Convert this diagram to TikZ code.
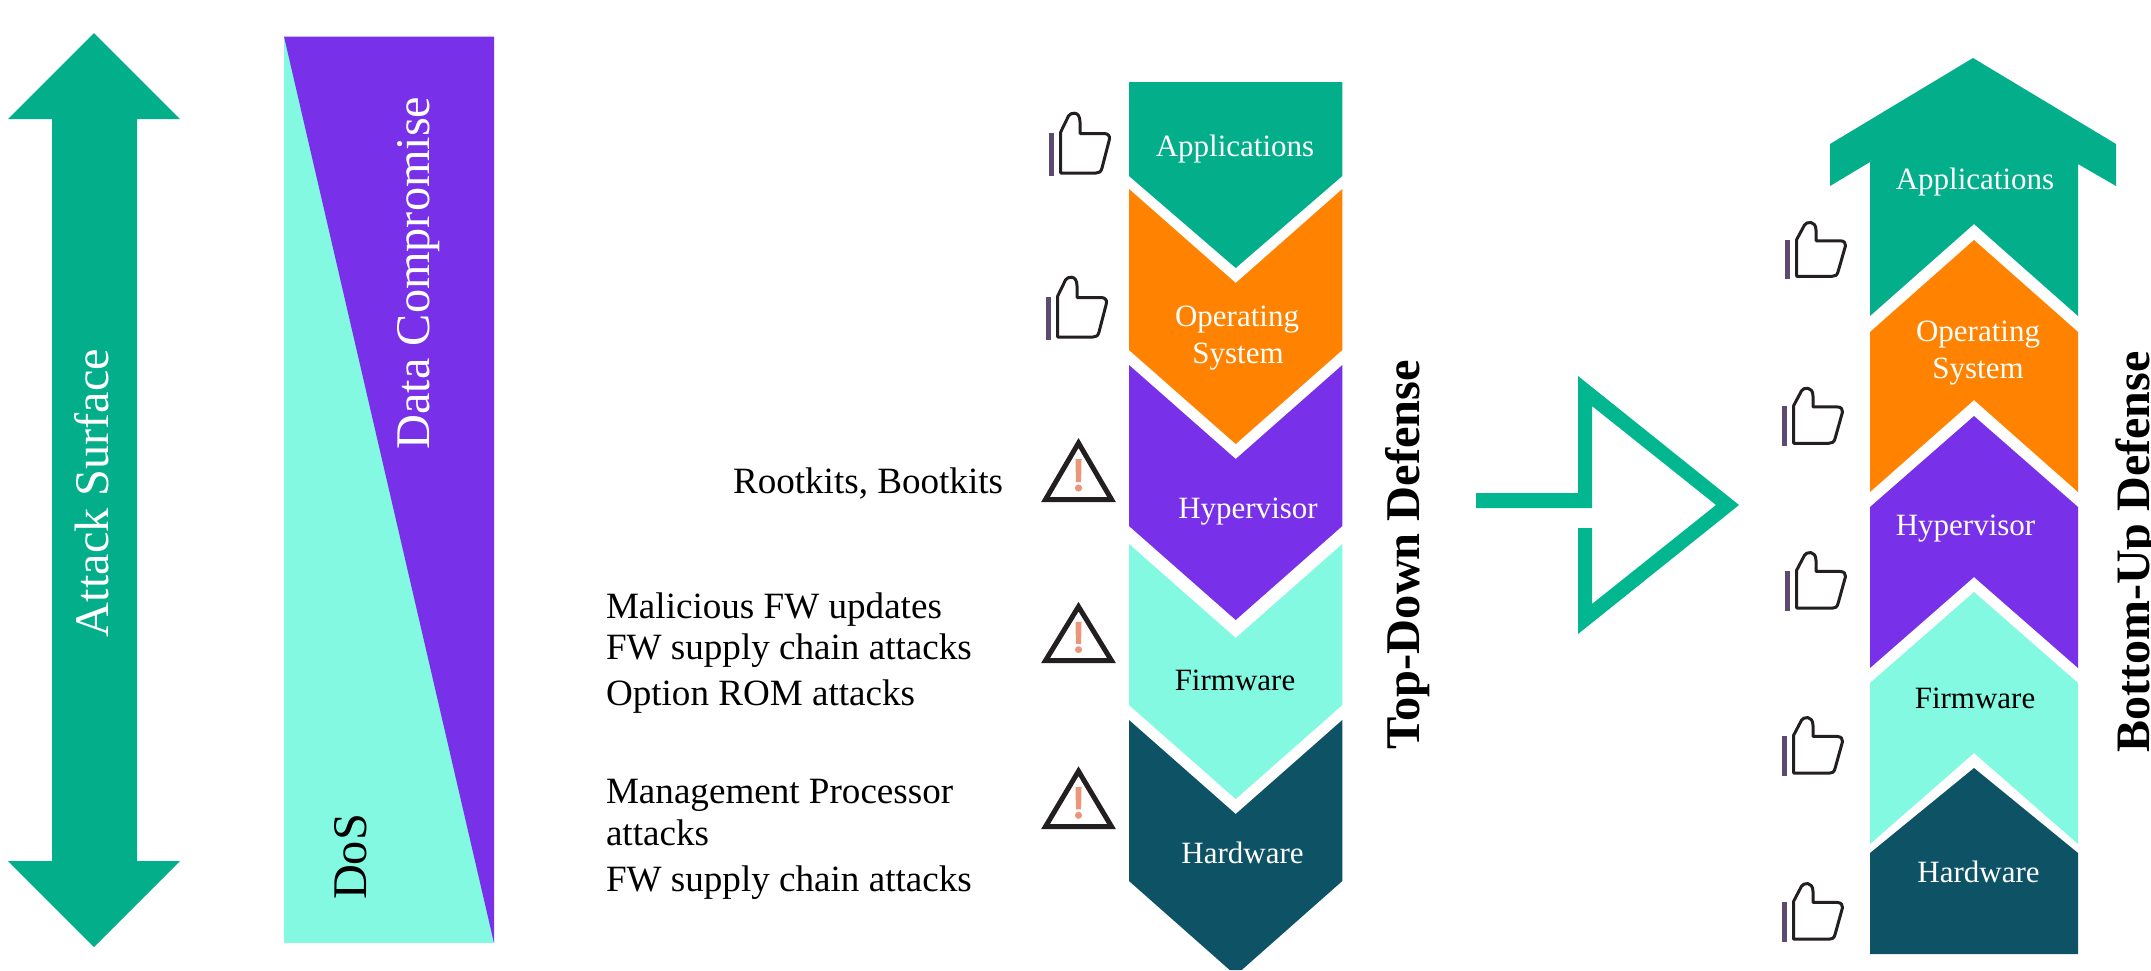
\documentclass[tikz,border=0pt]{standalone}
\usepackage{fontspec}
\setmainfont{Liberation Serif}
\definecolor{hgreen}{HTML}{02AF8A}
\definecolor{hgreenb}{HTML}{02B78F}
\definecolor{hpurple}{HTML}{7830E8}
\definecolor{horange}{HTML}{FF8300}
\definecolor{haqua}{HTML}{84F9E1}
\definecolor{hdark}{HTML}{0E5265}
\definecolor{hbar}{HTML}{5D4A70}
\definecolor{hink}{HTML}{231F20}
\definecolor{hwarn}{HTML}{E9967A}
\tikzset{
  x=1pt,y=-1pt,
  lbl/.style={inner sep=0pt,outer sep=0pt,anchor=base},
  lay/.style={lbl,font=\fontsize{31}{36}\selectfont,text=white},
  laydark/.style={lay,text=black},
  side/.style={lbl,anchor=base west,font=\fontsize{37.1}{41}\selectfont,text=black},
  big/.style={lbl,rotate=90,font=\fontsize{48.3}{54}\selectfont},
  head/.style={lbl,rotate=90,font=\fontsize{48.4}{56}\selectfont\bfseries,text=black},
  thumb/.pic={
    \fill[hbar] (0,0) rectangle (4.5,-43);
    \draw[hink,line width=3pt,line join=round]
      (11.7,-3) -- (11.7,-44) -- (19.5,-60)
      .. controls (21,-63.5) and (31,-66) .. (31,-54)
      -- (31,-42.5) -- (55,-42.5)
      .. controls (59,-42.5) and (61,-40) .. (60.5,-37)
      -- (53,-8)
      .. controls (52,-4) and (50,-3) .. (47,-3) -- cycle;
  },
  warn/.pic={
    \draw[hink,line width=5pt,miter limit=10] (-33,-2.5) -- (0,-59) -- (33,-2.5) -- cycle;
    \fill[hwarn] (-3,-43) -- (3,-43) -- (2.6,-20) -- (-2.6,-20) -- cycle;
    \fill[hwarn] (0,-14) circle (3.6);
  }
}
\begin{document}
\begin{tikzpicture}
\useasboundingbox (0,0) rectangle (2151,970);
\fill[white] (0,0) rectangle (2151,970);

% double arrow
\fill[hgreen] (94,33) -- (180,119) -- (137,119) -- (137,861) -- (180,861) -- (94,947)
  -- (8,861) -- (52,861) -- (52,119) -- (8,119) -- cycle;
\node[big,text=white] (attack) at (108,493) {Attack Surface};

% wedge bar
\fill[haqua] (284,36.5) rectangle (494,943);
\fill[hpurple] (284,36.5) -- (494,36.5) -- (494,943) -- cycle;
\node[big,text=white] (data) at (429,273) {Data Compromise};
\node[big,text=black] (dos) at (366,857) {DoS};

% top-down stack
\fill[hgreen] (1129,82) -- (1342.3,82) -- (1342.3,176) -- (1235.7,268) -- (1129,176) -- cycle;
\fill[horange] (1129,189) -- (1235.7,283) -- (1342.3,189) -- (1342.3,350) -- (1235.7,444) -- (1129,350) -- cycle;
\fill[hpurple] (1129,365) -- (1235.7,459) -- (1342.3,365) -- (1342.3,526) -- (1235.7,620) -- (1129,526) -- cycle;
\fill[haqua] (1129,544) -- (1235.7,638) -- (1342.3,544) -- (1342.3,705) -- (1235.7,799) -- (1129,705) -- cycle;
\fill[hdark] (1129,720) -- (1235.7,814) -- (1342.3,720) -- (1342.3,881) -- (1241.7,970) -- (1229.7,970) -- (1129,881) -- cycle;
\node[lay] (tapp) at (1235,156) {Applications};
\node[lay] (tos1) at (1237,326) {Operating};
\node[lay] (tos2) at (1238,363) {System};
\node[lay] (thyp) at (1248,518) {Hypervisor};
\node[laydark] (tfw) at (1235,690) {Firmware};
\node[lay] (thw) at (1242.5,863) {Hardware};
\node[head] (td) at (1419,554.5) {Top-Down Defense};

% bottom-up stack
\fill[hgreen] (1973,58) -- (2116,144) -- (2116,186) -- (2078,164) -- (2078,316) -- (1974,224)
  -- (1870,316) -- (1870,162) -- (1830,186) -- (1830,144) -- cycle;
\fill[horange] (1974,240) -- (2078,332) -- (2078,492) -- (1974,400) -- (1870,492) -- (1870,332) -- cycle;
\fill[hpurple] (1974,416) -- (2078,507) -- (2078,668) -- (1974,577) -- (1870,668) -- (1870,507) -- cycle;
\fill[haqua] (1974,592) -- (2078,683) -- (2078,844) -- (1974,753) -- (1870,844) -- (1870,683) -- cycle;
\fill[hdark] (1974,768) -- (2078,853) -- (2078,954) -- (1870,954) -- (1870,853) -- cycle;
\node[lay] (bapp) at (1975,189) {Applications};
\node[lay] (bos1) at (1978,341) {Operating};
\node[lay] (bos2) at (1978,378) {System};
\node[lay] (bhyp) at (1965.5,535) {Hypervisor};
\node[laydark] (bfw) at (1975,708) {Firmware};
\node[lay] (bhw) at (1978.5,882) {Hardware};
\node[head,font=\fontsize{48}{56}\selectfont\bfseries] (bu) at (2149,552) {Bottom-Up Defense};

% transition arrow
\fill[hgreenb] (1476,493) -- (1578,493) -- (1578,376) -- (1739,505) -- (1578,634) -- (1578,528)
  -- (1592,528) -- (1592,604) -- (1716,505) -- (1592,406) -- (1592,508) -- (1476,508) -- cycle;

% thumbs
\pic at (1049,176) {thumb};
\pic at (1046,340) {thumb};
\pic[yscale=.9] at (1785,279) {thumb};
\pic[yscale=.92] at (1782,446) {thumb};
\pic[yscale=.93] at (1785,611) {thumb};
\pic[yscale=.93] at (1782,776) {thumb};
\pic[yscale=.93] at (1782,942) {thumb};

% warnings
\pic at (1078.5,502) {warn};
\pic[yscale=.955] at (1078.5,663) {warn};
\pic[yscale=.98] at (1078.5,829) {warn};

% threat labels
\node[side] (r1) at (733,493) {Rootkits, Bootkits};
\node[side] (f1) at (606,618) {Malicious FW updates};
\node[side] (f2) at (606,659) {FW supply chain attacks};
\node[side] (f3) at (606,705) {Option ROM attacks};
\node[side] (m1) at (606,803) {Management Processor};
\node[side] (m2) at (606,845) {attacks};
\node[side] (m3) at (606,891) {FW supply chain attacks};
\end{tikzpicture}
\end{document}
